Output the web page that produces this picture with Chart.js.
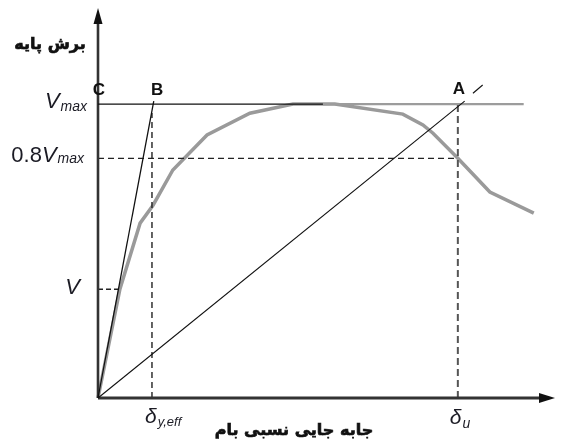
<!DOCTYPE html>
<html>
<head>
<meta charset="utf-8">
<script src="https://cdn.jsdelivr.net/npm/chart.js@4.4.1/dist/chart.umd.min.js"></script>
<style>
  html, body { margin: 0; padding: 0; background: #fff; }
  #wrap { width: 565px; height: 441px; position: relative; }
</style>
</head>
<body>
<div id="wrap"><canvas id="pushover"></canvas></div>
<script>
// pushover curve (drift relative to delta_u, shear relative to Vmax)
const curveX = [0, 0.061, 0.117, 0.153, 0.208, 0.303, 0.422, 0.542, 0.658, 0.847, 0.903, 0.931, 1.0, 1.089, 1.211];
const curveY = [0, 0.371, 0.595, 0.656, 0.776, 0.895, 0.969, 1.0, 1.0, 0.966, 0.929, 0.901, 0.816, 0.701, 0.629];

// reference levels
const vMax = 1.0;
const v08 = 0.815;
const vLevel = 0.37;
const dyEff = 0.15;
const dU = 1.0;

// idealised lines
const lineA = [[0, 0], [1.019, 1.01]];
const lineAext = [[1.042, 1.037], [1.069, 1.065]];
const lineB = [[0, 0], [0.155, 1.01]];
const vmaxBlack = [[0, vMax], [0.625, vMax]];
const vmaxGray = [[0.625, vMax], [1.183, vMax]];

// axis extents
const xMax = 1.27;
const yMax = 1.327;

const yTitle = 'برش پایه';
const xTitle = 'جابه جایی نسبی بام';

const pts = arr => arr.map(p => ({x: p[0], y: p[1]}));

function seg(data, color, width, dash, order) {
  return {
    data: data,
    borderColor: color,
    borderWidth: width,
    borderDash: dash || [],
    pointRadius: 0,
    showLine: true,
    fill: false,
    tension: 0,
    clip: false,
    order: order || 0
  };
}

const latin = '"Liberation Sans", Arial, sans-serif';
const farsi = '"DejaVu Sans", "Noto Sans", sans-serif';
const ink = '#1b1b24';

// text with a subscript part, drawn at baseline y
function subText(ctx, pre, main, sub, x, y, align, mainSize, subSize, subDrop) {
  ctx.font = mainSize + 'px ' + latin;
  const wPre = ctx.measureText(pre).width;
  ctx.font = 'italic ' + mainSize + 'px ' + latin;
  const wMain = ctx.measureText(main).width;
  ctx.font = 'italic ' + subSize + 'px ' + latin;
  const wSub = ctx.measureText(sub).width;
  let left = x;
  if (align === 'right') left = x - (wPre + wMain + wSub);
  ctx.textAlign = 'left';
  ctx.textBaseline = 'alphabetic';
  ctx.fillStyle = ink;
  ctx.font = mainSize + 'px ' + latin;
  ctx.fillText(pre, left, y);
  ctx.font = 'italic ' + mainSize + 'px ' + latin;
  ctx.fillText(main, left + wPre, y);
  ctx.font = 'italic ' + subSize + 'px ' + latin;
  ctx.fillText(sub, left + wPre + wMain + 1, y + subDrop);
}

const decor = {
  id: 'decor',
  afterDatasetsDraw(chart) {
    const ctx = chart.ctx;
    const xs = chart.scales.x, ys = chart.scales.y;
    const x0 = xs.getPixelForValue(0), y0 = ys.getPixelForValue(0);
    ctx.save();

    // arrow heads
    ctx.fillStyle = '#111';
    const yt = ys.getPixelForValue(yMax);
    ctx.beginPath();
    ctx.moveTo(x0, yt);
    ctx.lineTo(x0 - 4.5, yt + 16);
    ctx.lineTo(x0 + 4.5, yt + 16);
    ctx.closePath();
    ctx.fill();
    const xt = xs.getPixelForValue(xMax);
    ctx.beginPath();
    ctx.moveTo(xt, y0);
    ctx.lineTo(xt - 16, y0 - 5);
    ctx.lineTo(xt - 16, y0 + 5);
    ctx.closePath();
    ctx.fill();

    // level labels
    subText(ctx, '', 'V', 'max', x0 - 12, ys.getPixelForValue(vMax) + 4, 'right', 22, 14, 3);
    subText(ctx, '0.8', 'V', 'max', x0 - 15, ys.getPixelForValue(v08) + 4, 'right', 22, 14, 1);
    subText(ctx, '', 'V', '', x0 - 18, ys.getPixelForValue(vLevel) + 5, 'right', 22, 14, 0);
    subText(ctx, '', 'δ', 'y,eff', xs.getPixelForValue(dyEff) - 7, y0 + 25, 'left', 21, 13, 3);
    subText(ctx, '', 'δ', 'u', xs.getPixelForValue(dU) - 8, y0 + 26, 'left', 21, 14, 4);

    // point letters
    ctx.fillStyle = '#111';
    ctx.font = 'bold 17px ' + latin;
    ctx.textAlign = 'center';
    ctx.textBaseline = 'alphabetic';
    const yl = ys.getPixelForValue(vMax) - 9;
    ctx.fillText('C', x0 + 1, yl);
    ctx.fillText('B', xs.getPixelForValue(0.164), yl);
    ctx.fillText('A', xs.getPixelForValue(1.003), yl - 1);

    // axis titles (slight stroke to get the heavy look)
    ctx.font = 'bold 16px ' + farsi;
    ctx.textBaseline = 'middle';
    ctx.strokeStyle = '#111';
    ctx.lineWidth = 0.7;
    ctx.fillText(yTitle, 50, 45);
    ctx.strokeText(yTitle, 50, 45);
    ctx.fillText(xTitle, 294, 431);
    ctx.strokeText(xTitle, 294, 431);
    ctx.restore();
  }
};

new Chart(document.getElementById('pushover'), {
  type: 'scatter',
  data: {
    datasets: [
      seg(curveX.map((x, i) => ({x: x, y: curveY[i]})), '#9a9a9a', 3.5, null, 5),
      seg(pts(vmaxGray), '#9c9c9c', 2.2, null, 4),
      seg(pts(vmaxBlack), '#111', 1.4),
      seg(pts(lineA), '#111', 1.1),
      seg(pts(lineAext), '#111', 1.1),
      seg(pts(lineB), '#111', 1.3),
      seg([{x: 0, y: v08}, {x: dU, y: v08}], '#222', 1.3, [6, 4], 3),
      seg([{x: dyEff, y: 0}, {x: dyEff, y: 0.97}], '#222', 1.4, [6, 4], 3),
      seg([{x: dU, y: 0}, {x: dU, y: vMax}], '#555', 2, [7, 4], 3),
      seg([{x: 0, y: vLevel}, {x: 0.062, y: vLevel}], '#222', 1.3, [5, 3], 3),
      seg([{x: 0, y: 0}, {x: 0, y: yMax - 0.04}], '#333', 2.6),
      seg([{x: 0, y: 0}, {x: xMax - 0.03, y: 0}], '#333', 2.8)
    ]
  },
  options: {
    responsive: true,
    maintainAspectRatio: false,
    animation: false,
    layout: { padding: { left: 98, right: 10, top: 8, bottom: 43 } },
    plugins: { legend: { display: false }, tooltip: { enabled: false } },
    scales: {
      x: { type: 'linear', min: 0, max: xMax, display: false },
      y: { type: 'linear', min: 0, max: yMax, display: false }
    }
  },
  plugins: [decor]
});
</script>
</body>
</html>
